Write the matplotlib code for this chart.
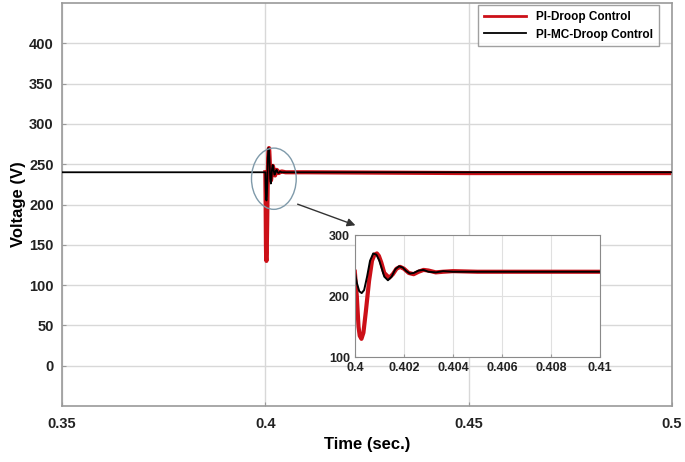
import numpy as np
import matplotlib
matplotlib.use('Agg')
import matplotlib.pyplot as plt
from matplotlib.patches import Ellipse

plt.rcParams['font.family'] = ['Liberation Sans', 'DejaVu Sans']

# PI-Droop Control (red)
t_red = [0.4, 0.40008, 0.40015, 0.4002, 0.40027, 0.40035, 0.40045, 0.40058, 0.4007,
         0.4008, 0.4009, 0.40098, 0.40108, 0.4012, 0.4014, 0.40155, 0.4017, 0.40185,
         0.402, 0.4022, 0.4024, 0.4026, 0.4028, 0.403, 0.4033, 0.4036, 0.404, 0.405,
         0.41, 0.45, 0.5]
v_red = [240, 200, 150, 135, 130, 140, 175, 225, 258, 268, 270, 266, 255, 238, 230,
         236, 245, 248, 245, 238, 236, 240, 243, 242, 239, 240, 241, 240, 240, 239, 239]

# PI-MC-Droop Control (black)
t_blk = [0.35, 0.4, 0.40008, 0.40018, 0.40028, 0.40038, 0.4005, 0.40062, 0.40075,
         0.40088, 0.401, 0.4011, 0.4012, 0.40135, 0.4015, 0.40165, 0.4018, 0.40195,
         0.4021, 0.40225, 0.4024, 0.4026, 0.4028, 0.403, 0.4033, 0.4036, 0.404, 0.405,
         0.41, 0.45, 0.5]
v_blk = [240, 240, 222, 208, 205, 210, 232, 258, 270, 268, 258, 245, 232, 226, 232,
         244, 249, 247, 241, 237, 238, 242, 243, 240, 239, 241, 240, 240, 240, 240, 240]

xticks = [0.35, 0.4, 0.45, 0.5]
xtick_labels = ['0.35', '0.4', '0.45', '0.5']
yticks = [0, 50, 100, 150, 200, 250, 300, 350, 400]
in_xticks = [0.4, 0.402, 0.404, 0.406, 0.408, 0.41]
in_xtick_labels = ['0.4', '0.402', '0.404', '0.406', '0.408', '0.41']
in_yticks = [100, 200, 300]

fig = plt.figure(figsize=(6.85, 4.62), dpi=100)
ax = fig.add_axes([0.0905, 0.1212, 0.8905, 0.8723])

ax.plot(t_red, v_red, color='#cc1018', linewidth=3, label='PI-Droop Control', zorder=2)
ax.plot(t_blk, v_blk, color='black', linewidth=1.3, label='PI-MC-Droop Control', zorder=3)

ax.set_xlim(0.35, 0.5)
ax.set_ylim(-50, 450)
ax.set_xticks(xticks)
ax.set_xticklabels(xtick_labels)
ax.set_yticks(yticks)
ax.grid(True, color='#d8d8d8', linewidth=1)
ax.set_axisbelow(True)
for s in ax.spines.values():
    s.set_color('#9a9a9a')
    s.set_linewidth(1.2)
ax.tick_params(direction='in', length=3, color='#9a9a9a', labelsize=10.5, pad=8)
for lb in ax.get_xticklabels() + ax.get_yticklabels():
    lb.set_fontweight('bold')
    lb.set_color('#222222')
ax.tick_params(axis='y', pad=6)
ax.set_xlabel('Time (sec.)', fontsize=12, fontweight='bold', labelpad=4)
ax.set_ylabel('Voltage (V)', fontsize=12, fontweight='bold', labelpad=2)

leg = ax.legend(loc='upper right', prop={'weight': 'bold', 'size': 8.5},
                handlelength=3.6, frameon=True, fancybox=False, borderaxespad=0.2,
                bbox_to_anchor=(0.982, 1.0), labelspacing=0.45, borderpad=0.5)
leg.get_frame().set_edgecolor('#888888')
leg.get_frame().set_linewidth(1)
leg.get_lines()[0].set_linewidth(2)

# zoom ellipse and arrow
ell = Ellipse((0.4021, 232), 0.011, 76, fill=False, edgecolor='#7f9aaa', linewidth=1, zorder=4)
ax.add_patch(ell)
ax.annotate('', xy=(0.4228, 173), xytext=(0.4073, 201.6),
            arrowprops=dict(arrowstyle='-|>', color='#333333', lw=1, mutation_scale=12))

# inset
ins = fig.add_axes([0.518, 0.227, 0.358, 0.264])
ins.plot(t_red, v_red, color='#cc1018', linewidth=3)
ins.plot(t_blk, v_blk, color='black', linewidth=1.4)
ins.set_xlim(0.4, 0.41)
ins.set_ylim(100, 300)
ins.set_xticks(in_xticks)
ins.set_xticklabels(in_xtick_labels)
ins.set_yticks(in_yticks)
ins.grid(True, color='#e0e0e0', linewidth=0.8)
for s in ins.spines.values():
    s.set_color('#8a8a8a')
ins.tick_params(direction='in', length=2, color='#9a9a9a', labelsize=9)
for lb in ins.get_xticklabels() + ins.get_yticklabels():
    lb.set_color('#222222')
    lb.set_fontweight('semibold')

fig.savefig('out.png', dpi=100, facecolor='white')
